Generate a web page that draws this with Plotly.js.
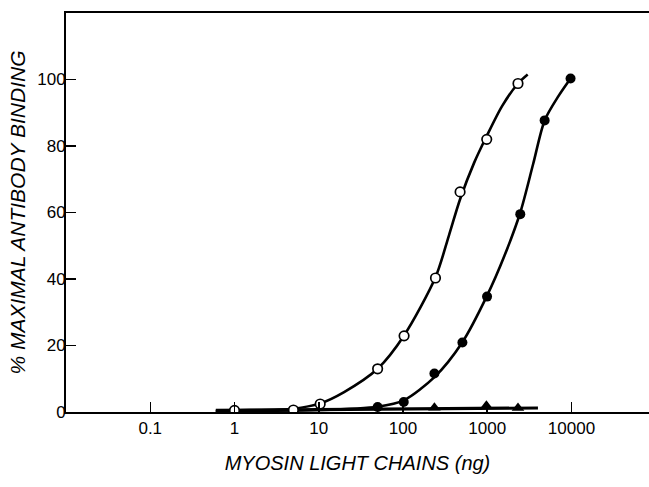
<!DOCTYPE html>
<html>
<head>
<meta charset="utf-8">
<script src="https://cdn.plot.ly/plotly-3.0.1.min.js"></script>
<style>html,body{margin:0;padding:0;background:#fff}#chart{width:649px;height:487px}</style>
</head>
<body>
<div id="chart"></div>
<script>
// Open circles: measured points
const openX = [1, 5, 10.4, 50, 103, 243, 476, 986, 2317];
const openY = [0.5, 0.6, 2.4, 13.0, 22.9, 40.3, 66.2, 82.0, 98.8];
// Open-circle fitted curve
const openCurveX = [0.6, 1, 5, 10.4, 20, 50, 103, 243, 350, 476, 700, 986, 1500, 2317, 3020];
const openCurveY = [0.3, 0.5, 1.0, 2.6, 6.0, 13.0, 23.0, 40.5, 53.0, 64.0, 75.0, 83.0, 92.0, 98.8, 101.5];

// Filled circles: measured points
const filledX = [50, 102, 236, 507, 995, 2467, 4800, 9750];
const filledY = [1.5, 3.0, 11.6, 20.9, 34.7, 59.5, 87.7, 100.3];
const filledCurveX = [0.6, 10, 50, 102, 236, 507, 995, 1600, 2467, 3500, 4800, 7000, 9750];
const filledCurveY = [0.3, 0.6, 1.6, 3.5, 10.5, 21.0, 35.0, 47.0, 60.0, 74.5, 87.7, 95.0, 100.3];

// Filled triangles
const triX = [236, 977, 2317];
const triY = [1.3, 1.9, 1.2];
const triLineX = [0.6, 100, 1000, 4000];
const triLineY = [0.5, 0.9, 1.2, 1.2];

const xTickVals = [0.1, 1, 10, 100, 1000, 10000];
const xTickText = ['0.1', '1', '10', '100', '1000', '10000'];
const yTickVals = [0, 20, 40, 60, 80, 100];

const traces = [
  {x: triLineX, y: triLineY, mode: 'lines', line: {color: '#000', width: 3.2}},
  {x: filledCurveX, y: filledCurveY, mode: 'lines', line: {color: '#000', width: 2.6, shape: 'spline', smoothing: 0.8}},
  {x: openCurveX, y: openCurveY, mode: 'lines', line: {color: '#000', width: 2.6, shape: 'spline', smoothing: 0.8}},
  {x: triX, y: triY, mode: 'markers', marker: {symbol: 'triangle-up', size: 11, color: '#000'}},
  {x: filledX, y: filledY, mode: 'markers', marker: {symbol: 'circle', size: 10, color: '#000'}},
  {x: openX, y: openY, mode: 'markers', marker: {symbol: 'circle', size: 9.5, color: '#fff', line: {color: '#000', width: 1.7}}}
];

const layout = {
  width: 649, height: 487,
  margin: {l: 66, r: 0, t: 13, b: 75},
  paper_bgcolor: '#fff', plot_bgcolor: '#fff',
  showlegend: false,
  font: {family: 'Liberation Sans, Arial, sans-serif', color: '#000', size: 17},
  xaxis: {
    type: 'log', range: [-2.0, 4.92],
    tickvals: xTickVals, ticktext: xTickText,
    ticks: 'inside', ticklen: 10, tickwidth: 1.5, tickcolor: '#000',
    showline: true, linecolor: '#000', linewidth: 2, mirror: true,
    showgrid: false, zeroline: false,
    tickfont: {size: 17},
    title: {text: '<i>MYOSIN LIGHT CHAINS (ng)</i>', font: {size: 20}, standoff: 19},
    automargin: false
  },
  yaxis: {
    range: [0, 120],
    tickvals: yTickVals,
    ticks: 'inside', ticklen: 10, tickwidth: 1.5, tickcolor: '#000',
    showline: true, linecolor: '#000', linewidth: 2,
    showgrid: false, zeroline: false,
    tickfont: {size: 17},
    ticklabelstandoff: -5,
    title: {text: '<i>% MAXIMAL ANTIBODY BINDING</i>', font: {size: 21}, standoff: 6},
    automargin: false
  }
};

Plotly.newPlot('chart', traces, layout, {displayModeBar: false, staticPlot: true});
</script>
</body>
</html>
